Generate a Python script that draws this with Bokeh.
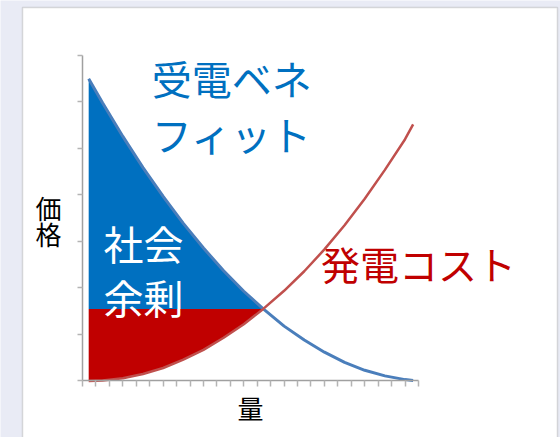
from bokeh.plotting import figure
from bokeh.models import Range1d, FixedTicker, Label, BoxAnnotation
from bokeh.embed import file_html
from bokeh.resources import INLINE

# --- data ---
# demand curve ("受電ベネフィット")
demand_q = [0.46, 1.5, 3.0, 4.5, 6.0, 7.5, 9.0, 10.5, 12.0, 13.45, 15.0, 16.5, 18.0, 19.5, 21.0, 22.5, 24.0, 24.6]
demand_p = [6.50, 5.98, 5.26, 4.59, 3.97, 3.39, 2.86, 2.37, 1.93, 1.55, 1.18, 0.88, 0.62, 0.40, 0.23, 0.11, 0.03, 0.01]
# supply curve ("発電コスト")
supply_q = [0.46, 1.5, 3.0, 4.5, 6.0, 7.5, 9.0, 10.5, 12.0, 13.45, 15.0, 16.5, 18.0, 19.5, 21.0, 22.5, 24.0, 24.6]
supply_p = [0.00, 0.01, 0.06, 0.15, 0.28, 0.46, 0.67, 0.93, 1.22, 1.55, 1.94, 2.36, 2.83, 3.35, 3.92, 4.54, 5.20, 5.52]
# equilibrium
eq_q = 13.45
eq_p = 1.55
x_ticks = list(range(0, 26))
y_ticks = list(range(0, 8))

FONT = "Noto Sans CJK JP"
BLUE_FILL = "#0070C0"
RED_FILL = "#C00000"
BG = "#E9EBF5"

p = figure(width=560, height=437, output_backend="svg", toolbar_location=None,
           x_range=Range1d(-6.1012, 35.565), y_range=Range1d(-1.2151, 8.1828),
           min_border=0)
p.border_fill_color = BG
p.background_fill_color = BG
p.outline_line_color = None
p.grid.visible = False

# white panel
panel = BoxAnnotation(left=-4.464, right=35.34, top=8.032, bottom=-3,
                      fill_color="white", fill_alpha=1.0,
                      line_color="#8C8C8C", line_width=1.5, level="underlay")
p.add_layout(panel)

# filled areas up to the equilibrium
n_eq = demand_q.index(eq_q) + 1
p.varea(x=demand_q[:n_eq], y1=[eq_p] * n_eq, y2=demand_p[:n_eq], fill_color=BLUE_FILL)
p.varea(x=supply_q[:n_eq], y1=supply_p[:n_eq], y2=[eq_p] * n_eq, fill_color=RED_FILL)

# curves
p.line(demand_q, demand_p, line_color="#4A7EBB", line_width=3)
p.line(supply_q, supply_p, line_color="#C0504D", line_width=2.5)

# axes (placed inside the frame at the origin)
for ax in (p.xaxis, p.yaxis):
    ax.fixed_location = 0
    ax.axis_line_color = "#A0A0A0"
    ax.axis_line_width = 1.5
    ax.major_tick_line_color = None
    ax.minor_tick_line_color = "#B4B4B4"
    ax.minor_tick_line_width = 1.5
    ax.minor_tick_in = 0
    ax.major_label_standoff = 0
p.xaxis.bounds = (0, 25)
p.yaxis.bounds = (0, 7)
p.xaxis.minor_tick_out = 6
p.yaxis.minor_tick_out = 5
p.xaxis.ticker = FixedTicker(ticks=[], minor_ticks=x_ticks)
p.yaxis.ticker = FixedTicker(ticks=[], minor_ticks=y_ticks)
p.xaxis.axis_label = "量"
p.xaxis.axis_label_text_font = FONT
p.xaxis.axis_label_text_font_size = "26px"
p.xaxis.axis_label_text_font_style = "normal"
p.xaxis.axis_label_text_color = "black"
p.xaxis.axis_label_standoff = 2

def lab(text, x, y, color, size):
    p.add_layout(Label(x=x, y=y, text=text, text_color=color, text_font=FONT,
                       text_font_size=size, text_baseline="top", text_align="left"))

lab("受電ベネ", 5.15, 7.13, BLUE_FILL, "40px")
lab("フィット", 5.15, 5.93, BLUE_FILL, "40px")
lab("社会", 1.56, 3.60, "white", "40px")
lab("余剰", 1.56, 2.44, "white", "40px")
lab("発電コスト", 17.75, 3.14, RED_FILL, "39px")
lab("価", -3.50, 4.12, "black", "26px")
lab("格", -3.50, 3.58, "black", "26px")

open("out.html", "w").write(file_html(p, INLINE))
